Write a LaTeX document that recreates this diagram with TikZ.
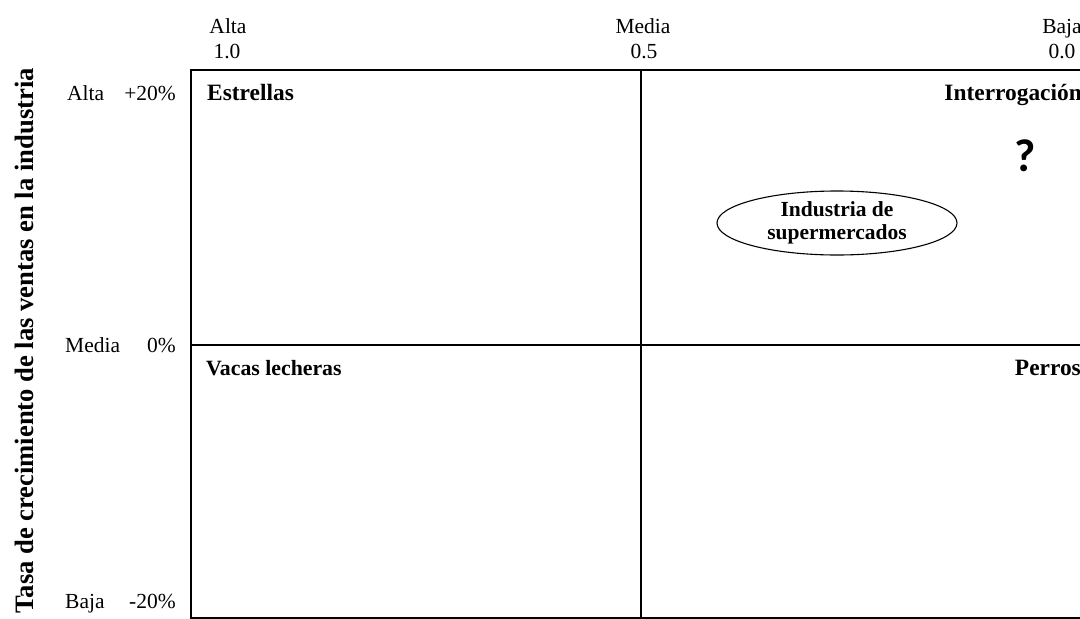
\documentclass[tikz,border=0pt]{standalone}
\usepackage{fontspec}
\setmainfont{Liberation Serif}
\newfontfamily\qfont{Carlito}
\usetikzlibrary{shapes.geometric}
\begin{document}
\begin{tikzpicture}[x=1pt,y=-1pt,
  lbl/.style={font=\fontsize{21.5}{24}\selectfont, inner sep=0pt},
  blbl/.style={font=\fontsize{23.4}{26}\selectfont\bfseries, inner sep=0pt},
  frame/.style={line width=1.6pt},
  mid/.style={line width=1.2pt}]
\useasboundingbox (0,0) rectangle (1080,619);
% grid
\coordinate (tl) at (191,70);
\coordinate (br) at (1096,618);
\coordinate (mt) at (641,70);
\coordinate (mb) at (641,618);
\coordinate (ml) at (191,345);
\coordinate (mr) at (1096,345);
\draw[frame] (tl) rectangle (br);
\draw[mid] (mt) -- (mb);
\draw[mid] (ml) -- (mr);
% top scale
\node[lbl, anchor=base] (ta) at (228,33) {Alta};
\node[lbl, anchor=base] (t1) at (227,58) {1.0};
\node[lbl, anchor=base] (tm) at (643,33) {Media};
\node[lbl, anchor=base] (t5) at (644,58) {0.5};
\node[lbl, anchor=base] (tb) at (1062,33) {Baja};
\node[lbl, anchor=base] (t0) at (1062,58) {0.0};
% left scale
\node[lbl, anchor=base west] (la) at (67,100) {Alta};
\node[lbl, anchor=base east] (l20) at (176,100) {+20\%};
\node[lbl, anchor=base west] (lm) at (65,352) {Media};
\node[lbl, anchor=base east] (l0) at (176,352) {0\%};
\node[lbl, anchor=base west] (lb) at (65,608) {Baja};
\node[lbl, anchor=base east] (lm20) at (176,608) {-20\%};
% axis title
\node[font=\fontsize{26.6}{29}\selectfont\bfseries, inner sep=0pt, rotate=90, anchor=base east] (yt) at (33,68) {Tasa de crecimiento de las ventas en la industria};
% quadrant labels
\node[blbl, anchor=base west] (q1) at (207,100) {Estrellas};
\node[blbl, anchor=base east] (q2) at (1082,100) {Interrogación};
\node[blbl, font=\fontsize{21.8}{24}\selectfont\bfseries, anchor=base west] (q3) at (206,375) {Vacas lecheras};
\node[blbl, anchor=base east] (q4) at (1081,375) {Perros};
\node[font=\qfont\fontsize{46}{48}\selectfont\bfseries, inner sep=0pt] (qm) at (1025,156) {?};
% ellipse
\node[draw, ellipse, line width=1.1pt, minimum width=240pt, minimum height=64pt, inner sep=0pt,
      align=center, font=\fontsize{21.5}{23}\selectfont\bfseries] (ind) at (837,223) {Industria de\\supermercados};
\end{tikzpicture}
\end{document}
